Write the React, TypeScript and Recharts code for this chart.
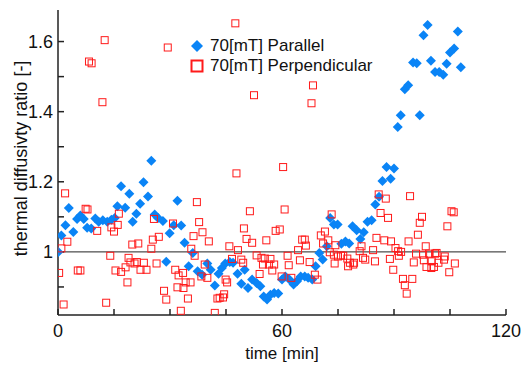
import React from 'react';
import { ScatterChart, Scatter, XAxis, YAxis, ReferenceLine, Legend, Label } from 'recharts';

// time [min], ratio [-]
const parT = [0.1, 0.9, 2.0, 2.9, 4.1, 5.1, 6.0, 6.9, 7.8, 8.9, 10.0, 10.9, 12.0, 13.2, 14.3, 15.2, 15.9, 16.9, 18.0, 19.1, 20.0, 21.0, 22.0, 22.9, 24.1, 25.0, 25.9, 26.8, 28.1, 29.0, 29.9, 31.0, 32.0, 33.0, 33.9, 35.0, 36.1, 37.4, 38.6, 40.0, 40.9, 42.0, 43.0, 43.9, 44.8, 46.0, 46.9, 48.1, 49.1, 50.0, 50.9, 52.0, 53.2, 54.2, 55.1, 56.0, 56.9, 57.9, 59.0, 60.0, 60.9, 62.0, 63.1, 64.0, 65.0, 66.1, 67.0, 68.1, 69.0, 70.0, 70.9, 72.0, 72.9, 73.9, 74.9, 75.9, 77.0, 78.0, 78.9, 80.0, 81.0, 81.9, 82.9, 84.0, 85.0, 86.0, 86.9, 88.0, 89.1, 90.0, 91.0, 91.8, 92.9, 93.8, 95.1, 96.1, 96.9, 97.9, 99.0, 99.9, 101.0, 102.1, 103.2, 104.1, 105.0, 106.1, 107.1, 107.9];
const parV = [1.0, 1.047, 1.076, 1.125, 1.057, 1.094, 1.104, 1.094, 1.069, 1.067, 1.095, 1.086, 1.09, 1.086, 1.092, 1.097, 1.13, 1.187, 1.126, 1.166, 1.086, 1.109, 1.137, 1.199, 1.158, 1.26, 1.107, 1.097, 1.088, 0.972, 1.053, 1.076, 1.146, 1.075, 1.026, 0.959, 0.997, 0.945, 0.935, 0.967, 0.949, 0.904, 0.938, 0.954, 0.967, 0.971, 0.969, 0.938, 0.909, 0.949, 0.897, 0.921, 0.911, 0.902, 0.873, 0.864, 0.878, 0.883, 0.881, 0.921, 0.93, 0.921, 0.907, 0.916, 0.93, 0.93, 0.926, 0.921, 0.959, 0.997, 0.978, 1.016, 1.097, 1.078, 1.078, 1.023, 1.03, 1.024, 1.073, 1.062, 1.037, 1.056, 1.086, 1.09, 1.135, 1.157, 1.202, 1.242, 1.209, 1.238, 1.356, 1.39, 1.464, 1.475, 1.54, 1.538, 1.39, 1.618, 1.647, 1.545, 1.513, 1.513, 1.505, 1.537, 1.569, 1.58, 1.629, 1.527];

const perT = [0.3, 0.9, 1.5, 1.9, 2.5, 5.3, 6.0, 7.4, 7.9, 8.3, 9.0, 10.5, 11.9, 12.5, 12.9, 14.0, 14.3, 15.0, 15.4, 16.0, 16.3, 16.9, 18.1, 18.6, 18.9, 19.4, 19.9, 20.5, 21.1, 21.5, 22.1, 23.0, 23.7, 25.0, 25.4, 25.7, 26.4, 27.0, 28.4, 29.0, 29.4, 30.8, 31.4, 32.0, 32.3, 32.9, 33.5, 33.6, 34.2, 34.8, 35.5, 35.7, 36.3, 36.6, 37.2, 37.8, 38.4, 38.7, 39.3, 40.0, 40.4, 42.0, 42.7, 43.3, 44.2, 44.5, 44.9, 45.3, 45.9, 46.6, 47.5, 47.8, 48.2, 49.1, 49.6, 49.8, 50.5, 51.4, 52.0, 52.5, 53.2, 54.0, 54.5, 54.9, 55.4, 55.8, 56.5, 56.9, 57.4, 57.9, 58.3, 59.4, 59.9, 60.3, 60.7, 61.5, 61.8, 62.5, 64.3, 64.8, 65.4, 66.1, 66.4, 67.4, 67.9, 68.3, 68.8, 69.5, 70.4, 71.0, 71.5, 72.4, 72.8, 73.3, 73.9, 74.1, 74.3, 75.0, 75.8, 76.4, 77.5, 77.7, 78.2, 79.1, 79.3, 80.8, 81.3, 81.7, 82.3, 84.4, 84.9, 85.3, 85.9, 86.4, 87.4, 87.8, 88.4, 88.9, 89.2, 89.8, 90.4, 91.1, 91.3, 91.9, 92.4, 92.9, 93.4, 93.9, 94.3, 94.9, 95.3, 95.9, 96.4, 96.9, 97.5, 97.8, 98.0, 98.5, 98.7, 99.4, 100.0, 100.1, 100.7, 101.0, 101.4, 101.9, 103.4, 103.6, 104.3, 104.8, 105.4, 106.0, 106.3];
const perV = [0.94, 1.01, 0.85, 1.167, 1.029, 0.947, 0.947, 1.123, 1.121, 1.543, 1.538, 1.06, 1.427, 1.604, 0.855, 0.989, 1.07, 1.058, 0.947, 1.077, 1.109, 0.943, 0.956, 0.913, 0.983, 0.97, 1.021, 0.967, 0.971, 1.024, 0.949, 0.969, 0.949, 1.009, 1.035, 1.094, 0.967, 1.043, 0.889, 0.864, 1.583, 1.081, 0.949, 0.899, 0.933, 0.832, 0.94, 0.897, 0.913, 0.867, 0.913, 1.009, 1.045, 0.989, 1.142, 1.085, 0.93, 1.056, 0.964, 0.926, 1.03, 0.826, 0.867, 0.869, 0.87, 0.879, 0.921, 0.913, 1.016, 0.98, 1.652, 1.224, 1.005, 0.978, 0.969, 1.067, 1.037, 1.116, 1.026, 1.447, 0.99, 0.937, 0.983, 0.964, 0.981, 1.033, 0.964, 0.98, 0.947, 0.964, 1.06, 1.064, 0.93, 1.242, 1.121, 0.989, 0.962, 0.926, 1.005, 0.976, 1.035, 1.035, 1.018, 0.971, 1.424, 1.475, 0.935, 0.921, 1.047, 1.024, 1.058, 1.033, 0.999, 1.107, 0.992, 0.967, 1.019, 0.987, 0.99, 0.989, 0.981, 0.959, 0.969, 0.964, 0.969, 1.002, 1.016, 0.983, 0.978, 1.005, 0.973, 1.04, 1.164, 1.111, 1.033, 1.152, 1.097, 0.98, 1.03, 0.949, 1.011, 1.002, 0.989, 1.0, 0.923, 0.905, 0.881, 1.03, 1.159, 0.923, 0.97, 0.995, 1.049, 1.083, 1.1, 0.992, 0.976, 1.016, 0.957, 0.995, 0.954, 0.973, 0.957, 0.995, 0.997, 0.969, 0.978, 0.987, 1.073, 0.942, 1.116, 1.113, 0.967];

const xTicks = [0, 15, 30, 45, 60, 75, 90, 105, 120];
const xLabels = [0, 60, 120];
const yTicks = [0.9, 1, 1.1, 1.2, 1.3, 1.4, 1.5, 1.6];
const yLabels = [1, 1.2, 1.4, 1.6];

const parallel = parT.map((t, i) => ({ t, v: parV[i] }));
const perpendicular = perT.map((t, i) => ({ t, v: perV[i] }));

const BLUE = '#0a84f6';
const RED = '#ff1a1a';
const AXIS = '#222';
const FONT = '"Liberation Sans", Arial, sans-serif';

const Diamond = (props: any) => {
  const { cx, cy } = props;
  const r = 5;
  return <path d={`M${cx},${cy - r}L${cx + r},${cy}L${cx},${cy + r}L${cx - r},${cy}Z`} fill={BLUE} />;
};

const Square = (props: any) => {
  const { cx, cy } = props;
  return <rect x={cx - 3.5} y={cy - 3.5} width={7} height={7} fill="none" stroke={RED} strokeWidth={1} />;
};

const LegendBox = () => (
  <div style={{ fontFamily: FONT, fontSize: 17, color: '#111', lineHeight: '20px' }}>
    <div style={{ display: 'flex', alignItems: 'center' }}>
      <svg width={14} height={14} style={{ marginRight: 6 }}>
        <path d="M7,1L13,7L7,13L1,7Z" fill={BLUE} />
      </svg>
      70[mT] Parallel
    </div>
    <div style={{ display: 'flex', alignItems: 'center' }}>
      <svg width={14} height={14} style={{ marginRight: 6 }}>
        <rect x={1.5} y={1.5} width={11} height={11} fill="none" stroke={RED} strokeWidth={2} />
      </svg>
      70[mT] Perpendicular
    </div>
  </div>
);

const YTitle = (props: any) => {
  const vb = props.viewBox;
  const x = vb.x + 27;
  const y = vb.y + vb.height / 2 - 4;
  return (
    <text x={x} y={y} transform={`rotate(-90, ${x}, ${y})`} textAnchor="middle" fontSize={18} fontFamily={FONT} fill="#111">
      thermal diffusivty ratio [-]
    </text>
  );
};

export default function App() {
  return (
    <div style={{ position: 'absolute', left: 0, top: 0, width: 526, height: 366, background: '#fff', fontFamily: FONT }}>
      <ScatterChart width={526} height={366} margin={{ top: 10, right: 20, bottom: 0, left: 0 }}>
        <XAxis xAxisId="b" type="number" dataKey="t" domain={[0, 120]} ticks={xTicks} orientation="bottom" height={51}
          tickFormatter={(v) => (xLabels.includes(v) ? String(v) : '')}
          tickSize={-6} tickMargin={15} stroke={AXIS} strokeWidth={1.5}
          tick={{ fill: '#111', fontSize: 18 }} allowDataOverflow>
          <Label value="time [min]" position="insideBottom" offset={7} fontSize={17} fill="#111" />
        </XAxis>
        <XAxis xAxisId="t" type="number" dataKey="t" domain={[0, 120]} ticks={xTicks} orientation="top" height={0}
          tickFormatter={() => ''} tickSize={-6} stroke={AXIS} strokeWidth={1.5} allowDataOverflow />
        <YAxis yAxisId="l" type="number" dataKey="v" domain={[0.82, 1.69]} ticks={yTicks} width={58}
          tickFormatter={(v) => (yLabels.includes(v) ? String(v) : '')}
          tickSize={-6} tickMargin={11} stroke={AXIS} strokeWidth={1.5}
          tick={{ fill: '#111', fontSize: 18 }} allowDataOverflow>
          <Label content={YTitle} />
        </YAxis>
        <YAxis yAxisId="r" type="number" dataKey="v" domain={[0.82, 1.69]} ticks={yTicks} orientation="right" width={0}
          tickFormatter={() => ''} tickSize={-6} stroke={AXIS} strokeWidth={1.5} allowDataOverflow />
        <ReferenceLine xAxisId="b" yAxisId="l" y={1} stroke={AXIS} strokeWidth={1} />
        <Scatter name="70[mT] Parallel" data={parallel} xAxisId="b" yAxisId="l" shape={Diamond} isAnimationActive={false} />
        <Scatter name="70[mT] Perpendicular" data={perpendicular} xAxisId="b" yAxisId="l" shape={Square} isAnimationActive={false} />
        <Legend content={LegendBox} layout="vertical" verticalAlign="middle" align="center"
          wrapperStyle={{ left: 190, top: 36, width: 220 }} />
      </ScatterChart>
    </div>
  );
}
